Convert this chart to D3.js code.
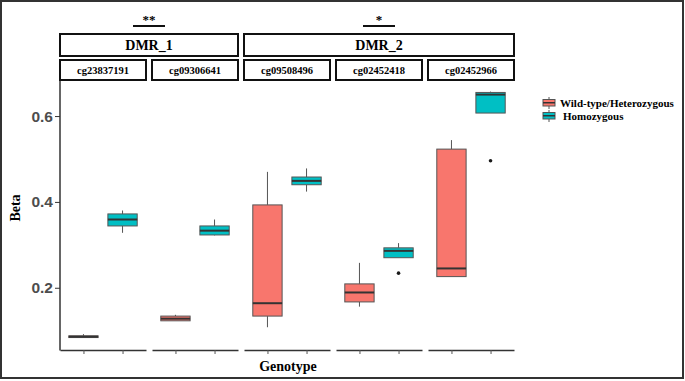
<!DOCTYPE html>
<html>
<head>
<meta charset="utf-8">
<script src="https://cdn.jsdelivr.net/npm/d3@7"></script>
<style>
  body { margin: 0; background: #fff; }
  svg { display: block; }
</style>
</head>
<body>
<svg id="chart"></svg>
<script>
// probes (facets) and the DMR group each one belongs to
const probes = ["cg23837191", "cg09306641", "cg09508496", "cg02452418", "cg02452966"];
const dmrOf = ["DMR_1", "DMR_1", "DMR_2", "DMR_2", "DMR_2"];
const dmrs = ["DMR_1", "DMR_2"];
const dmrStars = ["**", "*"];
const genotypes = ["Wild-type/Heterozygous", "Homozygous"];
const genoColors = ["#F8766D", "#00BFC4"];

// box stats per probe: [lowWhisker, q1, median, q3, highWhisker]
const wtStats = [
    [0.084, 0.084, 0.086, 0.088, 0.092],
    [0.123, 0.123, 0.128, 0.134, 0.137],
    [0.108, 0.134, 0.164, 0.393, 0.470],
    [0.156, 0.167, 0.189, 0.209, 0.258],
    [0.226, 0.226, 0.245, 0.523, 0.544]
];
const homStats = [
    [0.328, 0.344, 0.359, 0.372, 0.380],
    [0.322, 0.323, 0.333, 0.344, 0.359],
    [0.424, 0.440, 0.449, 0.458, 0.478],
    [0.270, 0.270, 0.286, 0.293, 0.304],
    [0.607, 0.607, 0.650, 0.655, 0.657]
];
// outliers: [probe index, genotype index, value]
const outliers = [
    [3, 1, 0.234],
    [4, 1, 0.496]
];
const yTicks = [0.2, 0.4, 0.6];

const W = 685, H = 381;
const svg = d3.select("#chart").attr("width", W).attr("height", H);

const serif = "'Times New Roman', 'Liberation Serif', serif";
const sans = "Arial, 'Liberation Sans', sans-serif";

// outer frame
svg.append("rect")
    .attr("x", 1).attr("y", 1)
    .attr("width", 682).attr("height", 377)
    .attr("fill", "none").attr("stroke", "#333").attr("stroke-width", 2);

const panelTop = 80, panelBottom = 350;

const x = d3.scaleBand()
    .domain(probes)
    .range([60, 514])
    .paddingInner(6 / 92)
    .paddingOuter(0);

// inside a panel: discrete positions 1,2 with ggplot's 0.6 expansion
const xIn = d3.scaleLinear().domain([0.4, 2.6]).range([0, x.bandwidth()]);
const boxW = xIn(0.75) - xIn(0);

const y = d3.scaleLinear()
    .domain([0.055, 0.684])
    .range([panelBottom, panelTop]);

// y axis
const yAxis = d3.axisLeft(y)
    .tickValues(yTicks)
    .tickFormat(d3.format(".1f"))
    .tickSize(5)
    .tickPadding(2);

const yg = svg.append("g")
    .attr("transform", `translate(60,0)`)
    .call(yAxis);
yg.select(".domain").remove();
yg.selectAll(".tick line").attr("stroke", "#333");
yg.selectAll(".tick text")
    .attr("font-family", sans)
    .attr("font-weight", "bold")
    .attr("font-size", 15.5)
    .attr("fill", "#4d4d4d");
svg.append("line")
    .attr("x1", 60).attr("x2", 60)
    .attr("y1", panelTop).attr("y2", panelBottom + 0.5)
    .attr("stroke", "#333").attr("stroke-width", 1.5);

// per panel x axes
probes.forEach((p, i) => {
    const g = svg.append("g")
        .attr("transform", `translate(${x(p)},${panelBottom})`);
    const ax = d3.axisBottom(xIn)
        .tickValues([1, 2])
        .tickFormat("")
        .tickSize(4)
        .tickSizeOuter(0);
    g.call(ax);
    g.select(".domain").attr("stroke", "#333").attr("stroke-width", 1.5);
    g.selectAll(".tick line").attr("stroke", "#555");
});

// boxplots
const allStats = [wtStats, homStats];
allStats.forEach((stats, gi) => {
    stats.forEach((s, pi) => {
        const cx = x(probes[pi]) + xIn(gi + 1);
        const g = svg.append("g");
        // whiskers
        g.append("line")
            .attr("x1", cx).attr("x2", cx)
            .attr("y1", y(s[4])).attr("y2", y(s[3]))
            .attr("stroke", "#555").attr("stroke-width", 1);
        g.append("line")
            .attr("x1", cx).attr("x2", cx)
            .attr("y1", y(s[1])).attr("y2", y(s[0]))
            .attr("stroke", "#555").attr("stroke-width", 1);
        // box
        g.append("rect")
            .attr("x", cx - boxW / 2)
            .attr("y", y(s[3]))
            .attr("width", boxW)
            .attr("height", Math.max(0.5, y(s[1]) - y(s[3])))
            .attr("fill", genoColors[gi])
            .attr("stroke", "#555").attr("stroke-width", 1);
        // median
        g.append("line")
            .attr("x1", cx - boxW / 2).attr("x2", cx + boxW / 2)
            .attr("y1", y(s[2])).attr("y2", y(s[2]))
            .attr("stroke", "#333").attr("stroke-width", 2);
    });
});

svg.selectAll("circle.out")
    .data(outliers)
    .enter()
    .append("circle")
    .attr("class", "out")
    .attr("cx", d => x(probes[d[0]]) + xIn(d[1] + 1))
    .attr("cy", d => y(d[2]))
    .attr("r", 1.8)
    .attr("fill", "#1a1a1a");

// probe strips
probes.forEach(p => {
    svg.append("rect")
        .attr("x", x(p)).attr("y", 60)
        .attr("width", x.bandwidth()).attr("height", 20)
        .attr("fill", "#fff").attr("stroke", "#111").attr("stroke-width", 2);
    svg.append("text")
        .attr("x", x(p) + x.bandwidth() / 2).attr("y", 73.5)
        .attr("text-anchor", "middle")
        .attr("font-family", serif).attr("font-weight", "bold")
        .attr("font-size", 10.5)
        .text(p);
});

// DMR strips and significance marks
dmrs.forEach((d, di) => {
    const members = probes.filter((p, i) => dmrOf[i] === d);
    const x0 = x(members[0]);
    const x1 = x(members[members.length - 1]) + x.bandwidth();
    const mid = (x0 + x1) / 2;
    svg.append("rect")
        .attr("x", x0).attr("y", 34)
        .attr("width", x1 - x0).attr("height", 22)
        .attr("fill", "#fff").attr("stroke", "#111").attr("stroke-width", 2);
    svg.append("text")
        .attr("x", mid).attr("y", 50)
        .attr("text-anchor", "middle")
        .attr("font-family", serif).attr("font-weight", "bold")
        .attr("font-size", 14)
        .text(d);
    svg.append("line")
        .attr("x1", mid - 16).attr("x2", mid + 16)
        .attr("y1", 26).attr("y2", 26)
        .attr("stroke", "#111").attr("stroke-width", 2);
    svg.append("text")
        .attr("x", mid).attr("y", 24)
        .attr("text-anchor", "middle")
        .attr("font-family", serif).attr("font-weight", "bold")
        .attr("font-size", 13)
        .text(dmrStars[di]);
});

// axis titles
svg.append("text")
    .attr("transform", "translate(20,208) rotate(-90)")
    .attr("text-anchor", "middle")
    .attr("font-family", serif).attr("font-weight", "bold")
    .attr("font-size", 14)
    .text("Beta");

svg.append("text")
    .attr("x", 288).attr("y", 371)
    .attr("text-anchor", "middle")
    .attr("font-family", serif).attr("font-weight", "bold")
    .attr("font-size", 14)
    .text("Genotype");

// legend
const legend = svg.append("g").attr("transform", "translate(542,96)");
genotypes.forEach((gname, i) => {
    const k = legend.append("g").attr("transform", `translate(0,${i * 13})`);
    k.append("line")
        .attr("x1", 7).attr("x2", 7).attr("y1", 1).attr("y2", 13)
        .attr("stroke", "#555");
    k.append("rect")
        .attr("x", 1).attr("y", 3.5).attr("width", 12).attr("height", 6.5)
        .attr("fill", genoColors[i]).attr("stroke", "#555");
    k.append("line")
        .attr("x1", 1).attr("x2", 13).attr("y1", 6.75).attr("y2", 6.75)
        .attr("stroke", "#333").attr("stroke-width", 1.5);
    k.append("text")
        .attr("x", i === 0 ? 18 : 21).attr("y", 10.5)
        .attr("font-family", serif).attr("font-weight", "bold")
        .attr("font-size", 11)
        .text(gname);
});
</script>
</body>
</html>
